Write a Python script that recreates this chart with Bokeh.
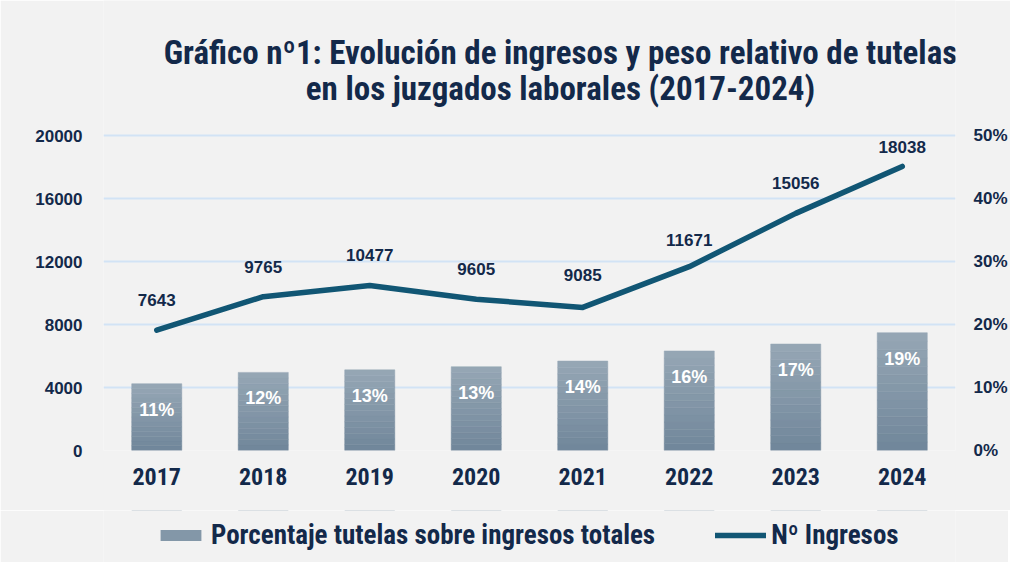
from bokeh.plotting import figure
from bokeh.layouts import column
from bokeh.models import (ColumnDataSource, LinearAxis, Range1d, Legend, LegendItem,
                          Label, FixedTicker, CustomJSTickFormatter, LabelSet)
from bokeh.embed import file_html
from bokeh.resources import INLINE
from bokeh.core.properties import value

years = ["2017", "2018", "2019", "2020", "2021", "2022", "2023", "2024"]
ingresos = [7643, 9765, 10477, 9605, 9085, 11671, 15056, 18038]
pct_tutelas = [10.6, 12.4, 12.8, 13.3, 14.2, 15.8, 16.9, 18.7]
pct_labels = ["11%", "12%", "13%", "13%", "14%", "16%", "17%", "19%"]
left_ticks = [0, 4000, 8000, 12000, 16000, 20000]
right_ticks = [0, 10, 20, 30, 40, 50]
title_lines = ["Gráfico nº1: Evolución de ingresos y peso relativo de tutelas",
               "en los juzgados laborales (2017-2024)"]
legend_labels = ["Porcentaje tutelas sobre ingresos totales", "Nº Ingresos"]

BG = "#f2f2f2"
NAVY = "#13294a"
LINE = "#115674"
GRID = "#d2e3f5"
BAR_MID = "#8397a8"
COND = "'Roboto Condensed', 'Liberation Sans Narrow', 'DejaVu Sans Condensed', 'Arial Narrow', sans-serif"
BOLD = "'Liberation Sans', Arial, sans-serif"

# layout geometry (pixels)
FRAME_W, AXIS_H, TOP_SPACE = 852, 315, 135
LEFT_MAX, RIGHT_MAX = 20000, 50
ext = (AXIS_H + TOP_SPACE) / AXIS_H   # frame extends upward to hold the title

p = figure(x_range=years, y_range=Range1d(0, LEFT_MAX * ext),
           frame_width=FRAME_W, frame_height=AXIS_H + TOP_SPACE,
           output_backend="svg", toolbar_location=None,
           min_border_left=103, min_border_right=53, min_border_top=0, min_border_bottom=60)
p.background_fill_color = BG
p.border_fill_color = BG
p.outline_line_color = None
p.extra_y_ranges = {"pct": Range1d(0, RIGHT_MAX * ext)}

src = ColumnDataSource(dict(x=years, y=ingresos, pct=pct_tutelas, pl=pct_labels,
                            yl=[str(v) for v in ingresos],
                            yoff=[30, 30, 30, 30, 32, 27, 30, 19]))

# gradient bars (slices from top colour to bottom colour)
top_c = (0x96, 0xa7, 0xb5)
bot_c = (0x70, 0x86, 0x9a)
n = 14
for i in range(n):
    f0, f1 = i / n, (i + 1) / n
    t = (i + 0.5) / n
    c = tuple(int(round(bot_c[k] + (top_c[k] - bot_c[k]) * t)) for k in range(3))
    col = "#%02x%02x%02x" % c
    s = ColumnDataSource(dict(x=years, b=[v * f0 for v in pct_tutelas], t=[v * f1 for v in pct_tutelas]))
    p.vbar(x="x", bottom="b", top="t", width=0.47, source=s, y_range_name="pct",
           fill_color=col, line_color=col, line_width=0.5)

p.line(x="x", y="y", source=src, line_color=LINE, line_width=5.5, line_cap="round",
       line_join="round")

# data labels
p.add_layout(LabelSet(x="x", y="y", text="yl", source=src, y_offset="yoff",
                      text_align="center", text_baseline="middle", text_font=value(BOLD),
                      text_font_style="bold", text_font_size="17px", text_color=NAVY))
p.add_layout(LabelSet(x="x", y="pct", text="pl", source=src, y_range_name="pct", y_offset=-26,
                      text_align="center", text_baseline="middle", text_font=value(BOLD),
                      text_font_style="bold", text_font_size="18px", text_color="white"))

# axes
p.yaxis.ticker = FixedTicker(ticks=left_ticks)
ax_r = LinearAxis(y_range_name="pct", ticker=FixedTicker(ticks=right_ticks),
                  formatter=CustomJSTickFormatter(code="return tick + '%';"))
p.add_layout(ax_r, "right")
for ax in [p.yaxis[0], ax_r]:
    ax.axis_line_color = None
    ax.major_tick_line_color = None
    ax.minor_tick_line_color = None
    ax.major_tick_out = 0
    ax.major_label_text_font = BOLD
    ax.major_label_text_font_style = "bold"
    ax.major_label_text_font_size = "17px"
    ax.major_label_text_color = NAVY
p.yaxis[0].major_label_standoff = 21
ax_r.major_label_standoff = 18
p.xaxis.axis_line_color = None
p.xaxis.major_tick_line_color = None
p.xaxis.major_tick_out = 0
p.xaxis.major_tick_in = 0
p.xaxis.major_label_text_font = COND
p.xaxis.major_label_text_font_style = "bold"
p.xaxis.major_label_text_font_size = "24px"
p.xaxis.major_label_text_color = NAVY
p.xaxis.major_label_standoff = 17

p.xgrid.grid_line_color = None
p.ygrid.grid_line_color = GRID
p.ygrid.grid_line_width = 2

# title (inside the extended frame, positioned in pixels from the frame top)
for i, t in enumerate(title_lines):
    p.add_layout(Label(x=(560 - 103) / FRAME_W * len(years), y=(AXIS_H + TOP_SPACE - 52 - 36 * i) / AXIS_H * LEFT_MAX,
                       text=t, text_align="center", text_baseline="middle",
                       text_font=COND, text_font_style="bold", text_font_size="33px",
                       text_color=NAVY))

# legend strip below the chart (same series, drawn outside its visible range)
lg = figure(x_range=years, y_range=Range1d(-2, -1), frame_width=FRAME_W, frame_height=52,
            output_backend="svg", toolbar_location=None,
            min_border_left=103, min_border_right=53, min_border_top=0, min_border_bottom=0)
lg.axis.visible = False
lg.grid.visible = False
lg.background_fill_color = BG
lg.border_fill_color = BG
lg.outline_line_color = None
r_bar = lg.vbar(x=years, top=pct_tutelas, width=0.47, fill_color=BAR_MID, line_color=None)
r_line = lg.line(x=years, y=ingresos, line_color=LINE, line_width=5.5, line_cap="round")
legend = Legend(items=[LegendItem(label=legend_labels[0], renderers=[r_bar]),
                       LegendItem(label=legend_labels[1], renderers=[r_line])],
                orientation="horizontal", location=(52, 11), background_fill_alpha=0,
                border_line_color=None, label_text_font=COND, label_text_font_style="bold",
                label_text_font_size="27px", label_text_color=NAVY, glyph_width=51,
                glyph_height=14, spacing=60, label_standoff=5, margin=0, padding=2)
lg.add_layout(legend, "center")

layout = column(p, lg, spacing=0)
open("out.html", "w").write(file_html(layout, INLINE))
